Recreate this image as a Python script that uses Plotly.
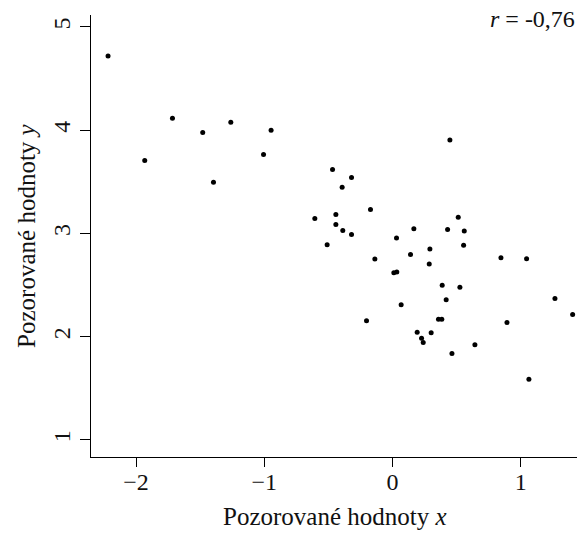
import plotly.graph_objects as go

x_vals = [-2.218, -1.716, -1.932, -1.480, -1.261, -1.396, -0.947, -1.006,
          0.447, -0.468, -0.320, -0.393, -0.172, -0.606, -0.442, -0.442,
          -0.388, -0.320, -0.510, 0.512, 0.166, 0.429, 0.559, 0.554,
          0.031, 0.291, 0.140, -0.138, 0.845, 1.045, 0.286,
          0.010, 0.033, 0.387, 0.525, 0.418, 1.266, 1.404, 0.067, -0.203,
          0.358, 0.384, 0.892, 0.192, 0.301, 0.226, 0.239, 0.642, 0.463, 1.063]
y_vals = [4.719, 4.116, 3.707, 3.978, 4.077, 3.497, 4.000, 3.765,
          3.906, 3.620, 3.542, 3.448, 3.232, 3.145, 3.184, 3.087,
          3.029, 2.990, 2.890, 3.158, 3.045, 3.039, 3.023, 2.887,
          2.955, 2.849, 2.797, 2.752, 2.765, 2.756, 2.704,
          2.620, 2.628, 2.499, 2.480, 2.357, 2.371, 2.216, 2.309, 2.154,
          2.170, 2.170, 2.138, 2.044, 2.038, 1.986, 1.944, 1.922, 1.838, 1.589]

x_ticks = [-2, -1, 0, 1]
y_ticks = [1, 2, 3, 4, 5]
x_title = "Pozorované hodnoty <i>x</i>"
y_title = "Pozorované hodnoty <i>y</i>"
r_label = "<i>r</i> = -0,76"

FONT = "Liberation Serif, Times New Roman, serif"

fig = go.Figure(go.Scatter(x=x_vals, y=y_vals, mode="markers",
                           marker=dict(size=5, color="black"),
                           cliponaxis=False, showlegend=False,
                           hoverinfo="skip"))

fig.update_layout(
    width=577, height=533,
    margin=dict(l=91, r=0, t=15, b=76),
    paper_bgcolor="white", plot_bgcolor="white",
    font=dict(family=FONT, size=24, color="#111"),
    xaxis=dict(range=[-2.351, 1.438], tickvals=x_ticks, showgrid=False,
               zeroline=False, showline=True, linecolor="black", linewidth=1,
               ticks="outside", ticklen=9, tickcolor="black", tickwidth=1,
               ticklabelstandoff=-6,
               automargin=False, tickfont=dict(size=24)),
    yaxis=dict(range=[0.835, 5.116], tickvals=y_ticks, showgrid=False,
               zeroline=False, showline=True, linecolor="black", linewidth=1,
               ticks="outside", ticklen=10, tickcolor="black", tickwidth=1,
               tickangle=-90, automargin=False, tickfont=dict(size=24)),
    annotations=[
        dict(text=x_title, xref="paper", yref="paper", x=0.502, y=-0.1357,
             xanchor="center", yanchor="middle", showarrow=False,
             font=dict(size=25)),
        dict(text=y_title, xref="paper", yref="paper", x=-0.134, y=0.5,
             xanchor="center", yanchor="middle", showarrow=False,
             textangle=-90, font=dict(size=25)),
        dict(text=r_label, xref="paper", yref="paper", x=0.817, y=0.991,
             xanchor="left", yanchor="middle", showarrow=False,
             font=dict(size=24)),
    ],
)

fig.write_html("out.html",
               config={"displayModeBar": False, "staticPlot": True},
               post_script="document.body.style.margin='0';"
                           "document.body.style.overflow='hidden';")
